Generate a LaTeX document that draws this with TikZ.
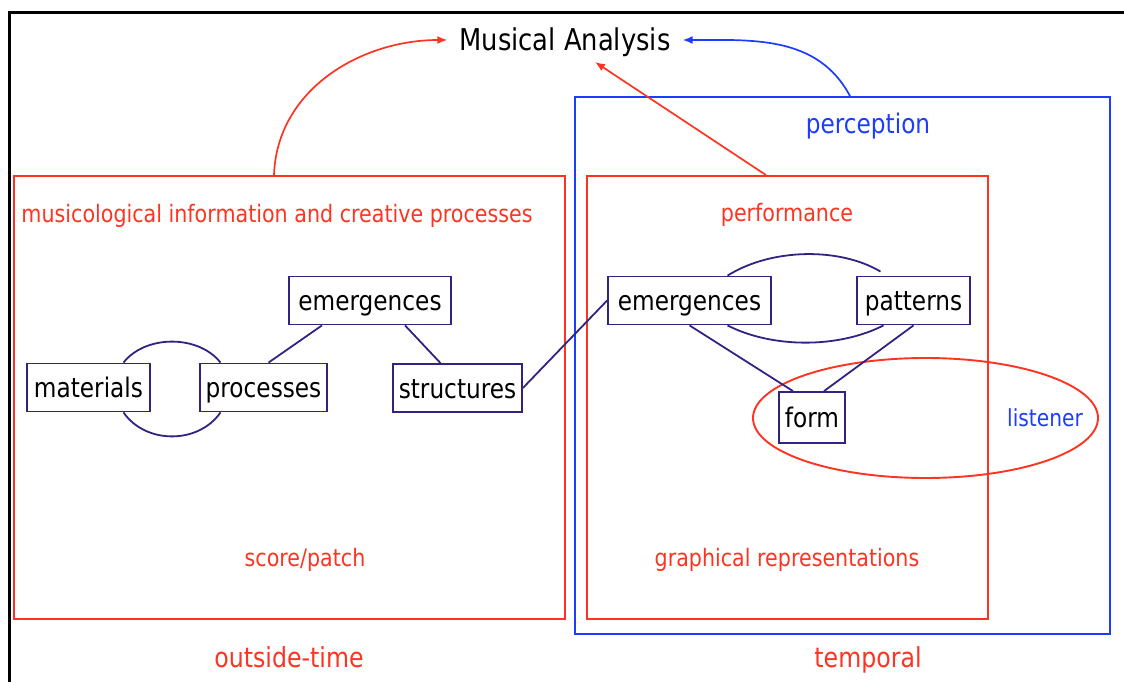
\documentclass[tikz,border=0pt]{standalone}
\usepackage{fontspec}
\setmainfont{DejaVu Sans}[FakeStretch=0.86]
\usetikzlibrary{arrows.meta,shapes.geometric}
\definecolor{myred}{RGB}{255,51,34}
\definecolor{myblue}{RGB}{30,60,255}
\definecolor{navy}{RGB}{50,35,130}
\begin{document}
\begin{tikzpicture}[x=1pt,y=-1pt,
  nbox/.style={draw=navy,line width=1.8pt,minimum height=48pt,inner sep=0pt,text height=22pt,text depth=2pt,font=\fontsize{27}{30}\selectfont,text=black},
  link/.style={draw=navy,line width=1.8pt},
  frame/.style={line width=1.9pt},
  lab/.style={font=\fontsize{24}{28}\selectfont,inner sep=0pt,anchor=base},
  biglab/.style={font=\fontsize{27.5}{30}\selectfont,inner sep=0pt,anchor=base},
  arr/.style={line width=1.7pt,-{Latex[length=10pt,width=8pt]}}]
\useasboundingbox (0,0) rectangle (1124,682);
% outer frame
\draw[line width=3pt,black] (9,682) -- (9,13) -- (1124,13);
% containers
\node[frame,draw=myblue,minimum width=535pt,minimum height=537pt,inner sep=0pt] (bluebox) at (842.5,365.5) {};
\node[frame,draw=myred,minimum width=401pt,minimum height=443pt,inner sep=0pt] (innerbox) at (787.5,397.5) {};
\node[frame,draw=myred,minimum width=551pt,minimum height=443pt,inner sep=0pt] (leftbox) at (289.5,397.5) {};
\node[frame,draw=myred,ellipse,minimum width=345pt,minimum height=120pt,inner sep=0pt] (lis) at (925.5,418) {};
% title
\node[font=\fontsize{30}{34}\selectfont,inner xsep=12pt,inner ysep=0pt,text height=22pt,text depth=0pt] (ma) at (565,40) {Musical Analysis};
\coordinate (matgt) at (595,62);
% labels
\node[lab,text=myred] (lmus) at (277,222) {musicological information and creative processes};
\node[lab,text=myred] (lperf) at (787,221) {performance};
\node[lab,text=myred] (lscore) at (305,566) {score/patch};
\node[lab,text=myred] (lgraph) at (787,566) {graphical representations};
\node[lab,text=myblue,font=\fontsize{27}{30}\selectfont] (lperc) at (868,134) {perception};
\node[lab,text=myblue,font=\fontsize{23.5}{28}\selectfont] (llis) at (1045,426) {listener};
\node[biglab,text=myred] (lout) at (289,667) {outside-time};
\node[biglab,text=myred] (ltemp) at (868,667) {temporal};
% nodes
\node[nbox,minimum width=123pt] (mat) at (88.5,387.5) {materials};
\node[nbox,minimum width=127pt] (proc) at (263.5,387.5) {processes};
\node[nbox,minimum width=162pt] (eml) at (370,300.5) {emergences};
\node[nbox,minimum width=129pt] (str) at (457.5,388) {structures};
\node[nbox,minimum width=163pt] (emr) at (689.5,300.5) {emergences};
\node[nbox,minimum width=113pt] (pat) at (913.5,300.5) {patterns};
\node[nbox,minimum width=66pt,minimum height=51pt] (form) at (812,417.5) {form};
% links
\draw[link] ([xshift=35pt]mat.north) .. controls +(22,-28) and +(-22,-28) .. ([xshift=-43pt]proc.north);
\draw[link] ([xshift=35pt]mat.south) .. controls +(22,32) and +(-22,32) .. ([xshift=-43pt]proc.south);
\draw[link] ([xshift=5pt]proc.north) -- ([xshift=-48pt]eml.south);
\draw[link] ([xshift=35pt]eml.south) -- ([xshift=-17pt]str.north);
\draw[link] (str.east) -- (emr.west);
\draw[link] ([xshift=38pt]emr.north) .. controls +(45,-28) and +(-40,-24) .. ([xshift=-33pt,yshift=4pt]pat.north);
\draw[link] ([xshift=38pt]emr.south) .. controls +(45,23) and +(-45,23) .. ([xshift=-30pt]pat.south);
\draw[link] (emr.south) -- ([xshift=-19pt]form.north);
\draw[link] (pat.south) -- ([xshift=12pt]form.north);
% arrows
\draw[arr,myred] ([xshift=-15.5pt]leftbox.north) to[out=88,in=180] (ma.west);
\draw[arr,myblue] ([xshift=7.5pt]bluebox.north) to[out=118,in=0] (ma.east);
\draw[arr,myred] ([xshift=-21.5pt]innerbox.north) -- (matgt);
\end{tikzpicture}
\end{document}
